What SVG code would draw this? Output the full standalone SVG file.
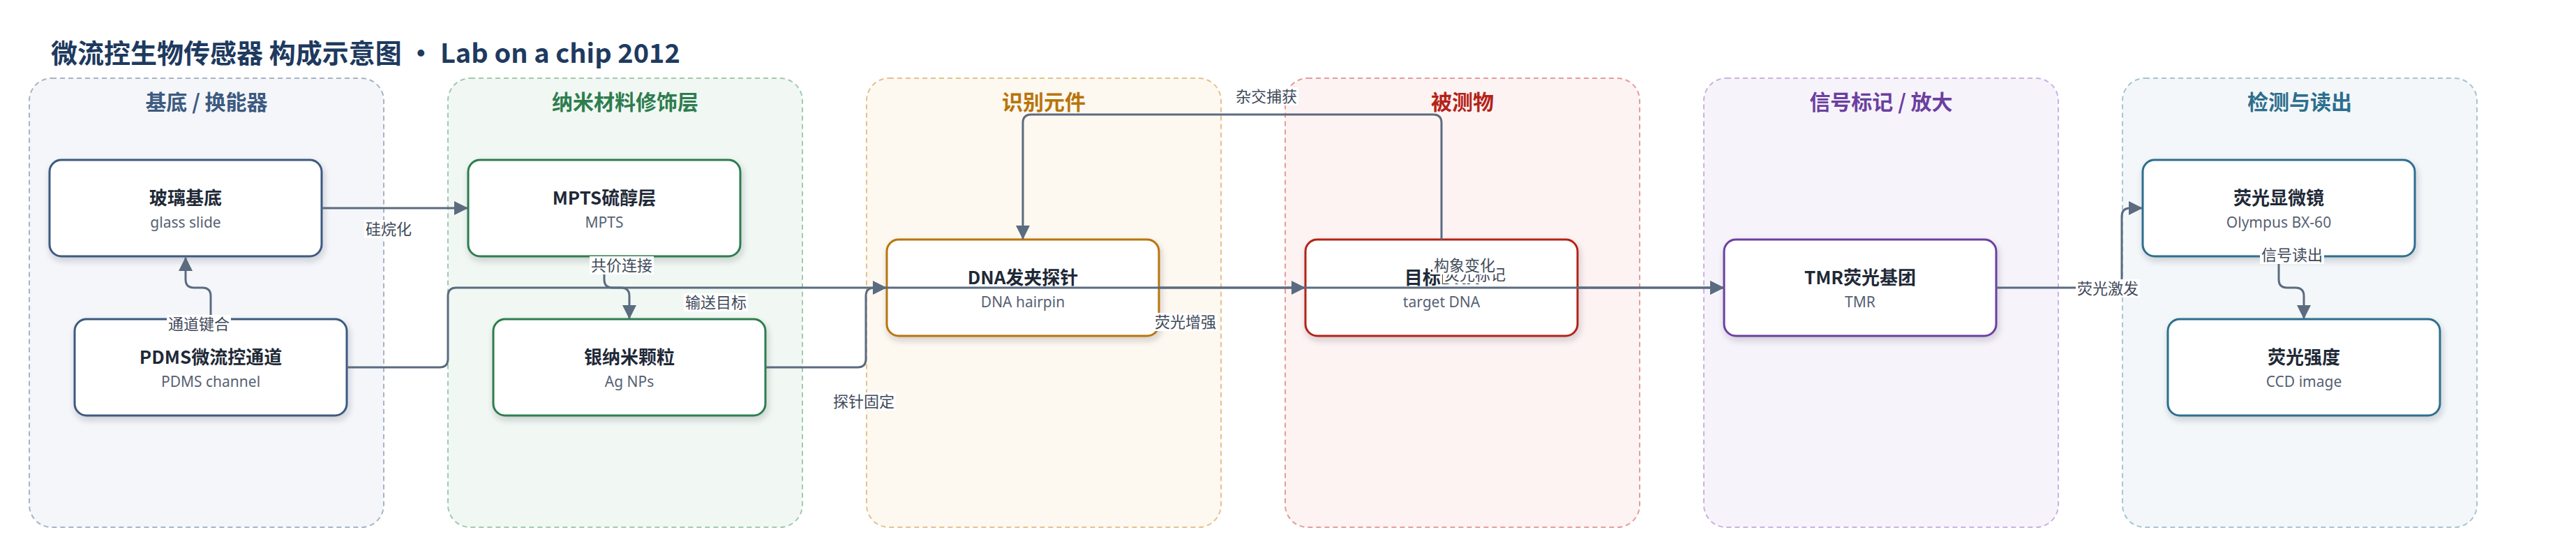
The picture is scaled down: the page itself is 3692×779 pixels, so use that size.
<svg xmlns="http://www.w3.org/2000/svg" width="3692" height="779" viewBox="0 0 3692 779">
<style>
.title{font-family:"Noto Sans CJK SC","Noto Sans",sans-serif;font-weight:700;font-size:38px;fill:#1e3a5f}
.ptitle{font-family:"Noto Sans CJK SC",sans-serif;font-weight:700;font-size:30px;text-anchor:middle}
.panel{stroke-width:2;stroke-dasharray:7 5}
.node rect{fill:#ffffff;stroke-width:3;filter:url(#shadow)}
.nt{font-family:"Noto Sans CJK SC",sans-serif;font-weight:700;font-size:26px;fill:#1f2937;text-anchor:middle}
.ns{font-family:"Noto Sans","Noto Sans CJK SC",sans-serif;font-size:21px;fill:#566173;text-anchor:middle}
.edge{fill:none;stroke:#5b6b80;stroke-width:3}
.arr{marker-end:url(#ah)}
.lbg{fill:#ffffff}
.lt{font-family:"Noto Sans CJK SC",sans-serif;font-size:22px;fill:#3f4a5a;text-anchor:middle}
</style>
<defs>
<filter id="shadow" x="-10%" y="-20%" width="120%" height="150%">
<feDropShadow dx="2" dy="5" stdDeviation="5" flood-color="#1f2937" flood-opacity="0.2"/>
</filter>
<marker id="ah" markerUnits="userSpaceOnUse" markerWidth="20" markerHeight="20" refX="19" refY="10" orient="auto">
<path d="M0,0 L20,10 L0,20 Z" fill="#5b6b80"/>
</marker>
</defs>
<rect x="0" y="0" width="3692" height="779" fill="#ffffff"/>
<text class="title" x="73" y="90">微流控生物传感器 构成示意图 · Lab on a chip 2012</text>

<g id="panels">
<g id="panel-substrate"><rect class="panel" x="42" y="112" width="508" height="643" rx="32" fill="#f4f6fa" stroke="#a7b4c7"/><text class="ptitle" x="296" y="157" fill="#3d5a80">基底 / 换能器</text></g>
<g id="panel-nano"><rect class="panel" x="642" y="112" width="508" height="643" rx="32" fill="#f1f8f3" stroke="#9fcaae"/><text class="ptitle" x="896" y="157" fill="#2e7d4f">纳米材料修饰层</text></g>
<g id="panel-recog"><rect class="panel" x="1242" y="112" width="508" height="643" rx="32" fill="#fdf8f0" stroke="#e3c28f"/><text class="ptitle" x="1496" y="157" fill="#b8740a">识别元件</text></g>
<g id="panel-analyte"><rect class="panel" x="1842" y="112" width="508" height="643" rx="32" fill="#fdf3f3" stroke="#e59c9c"/><text class="ptitle" x="2096" y="157" fill="#b42318">被测物</text></g>
<g id="panel-label"><rect class="panel" x="2442" y="112" width="508" height="643" rx="32" fill="#f7f3fb" stroke="#c8b2e2"/><text class="ptitle" x="2696" y="157" fill="#6b3fa0">信号标记 / 放大</text></g>
<g id="panel-detect"><rect class="panel" x="3042" y="112" width="508" height="643" rx="32" fill="#f3f7f9" stroke="#a6c5d2"/><text class="ptitle" x="3296" y="157" fill="#2d6e8e">检测与读出</text></g>
</g>

<g id="node-glass" class="node"><rect x="71" y="229" width="390" height="138" rx="17" stroke="#3d5a80"/><text class="nt" x="266" y="293">玻璃基底</text><text class="ns" x="266" y="326">glass slide</text></g>
<g id="node-pdms" class="node"><rect x="107" y="457" width="390" height="138" rx="17" stroke="#3d5a80"/><text class="nt" x="302" y="521">PDMS微流控通道</text><text class="ns" x="302" y="554">PDMS channel</text></g>
<g id="node-mpts" class="node"><rect x="671" y="229" width="390" height="138" rx="17" stroke="#2e7d4f"/><text class="nt" x="866" y="293">MPTS硫醇层</text><text class="ns" x="866" y="326">MPTS</text></g>
<g id="node-agnp" class="node"><rect x="707" y="457" width="390" height="138" rx="17" stroke="#2e7d4f"/><text class="nt" x="902" y="521">银纳米颗粒</text><text class="ns" x="902" y="554">Ag NPs</text></g>
<g id="node-hairpin" class="node"><rect x="1271" y="343" width="390" height="138" rx="17" stroke="#b8740a"/><text class="nt" x="1466" y="407">DNA发夹探针</text><text class="ns" x="1466" y="440">DNA hairpin</text></g>
<g id="node-target" class="node"><rect x="1871" y="343" width="390" height="138" rx="17" stroke="#b42318"/><text class="nt" x="2066" y="407">目标DNA</text><text class="ns" x="2066" y="440">target DNA</text></g>
<g id="node-tmr" class="node"><rect x="2471" y="343" width="390" height="138" rx="17" stroke="#6b3fa0"/><text class="nt" x="2666" y="407">TMR荧光基团</text><text class="ns" x="2666" y="440">TMR</text></g>
<g id="node-microscope" class="node"><rect x="3071" y="229" width="390" height="138" rx="17" stroke="#2d6e8e"/><text class="nt" x="3266" y="293">荧光显微镜</text><text class="ns" x="3266" y="326">Olympus BX-60</text></g>
<g id="node-intensity" class="node"><rect x="3107" y="457" width="390" height="138" rx="17" stroke="#2d6e8e"/><text class="nt" x="3302" y="521">荧光强度</text><text class="ns" x="3302" y="554">CCD image</text></g>

<g id="connectors">
<path class="edge arr" d="M461,298 L670,298"/>
<path class="edge arr" d="M302,456 L302,424 Q302,412 290,412 L278,412 Q266,412 266,400 L266,369"/>
<path class="edge arr" d="M866,368 L866,400 Q866,412 878,412 L890,412 Q902,412 902,424 L902,456"/>
<path class="edge arr" d="M1097,526 L1229,526 Q1241,526 1241,514 L1241,424 Q1241,412 1253,412 L1270,412"/>
<path class="edge arr" d="M497,526 L630,526 Q642,526 642,514 L642,424 Q642,412 654,412 L1870,412"/>
<path class="edge arr" d="M2066,343 L2066,176 Q2066,164 2054,164 L1478,164 Q1466,164 1466,176 L1466,342"/>
<path class="edge arr" d="M1661,412 L2470,412"/>
<path class="edge arr" d="M2261,412 L2470,412"/>
<path class="edge arr" d="M2861,412 L3029,412 Q3041,412 3041,400 L3041,310 Q3041,298 3053,298 L3070,298"/>
<path class="edge arr" d="M3266,368 L3266,400 Q3266,412 3278,412 L3290,412 Q3302,412 3302,424 L3302,456"/>
<g id="edge-labels">
<rect class="lbg" x="522" y="315" width="70" height="26"/><text class="lt" x="557" y="336">硅烷化</text>
<rect class="lbg" x="239" y="451" width="92" height="26"/><text class="lt" x="285" y="472">通道键合</text>
<rect class="lbg" x="845" y="367" width="92" height="26"/><text class="lt" x="891" y="388">共价连接</text>
<rect class="lbg" x="980" y="420" width="92" height="26"/><text class="lt" x="1026" y="441">输送目标</text>
<rect class="lbg" x="1192" y="562" width="92" height="26"/><text class="lt" x="1238" y="583">探针固定</text>
<rect class="lbg" x="1769" y="125" width="92" height="26"/><text class="lt" x="1815" y="146">杂交捕获</text>
<rect class="lbg" x="1653" y="448" width="92" height="26"/><text class="lt" x="1699" y="469">荧光增强</text>
<rect class="lbg" x="2068" y="380" width="92" height="26"/><text class="lt" x="2114" y="401">荧光标记</text>
<rect class="lbg" x="2053" y="367" width="92" height="26"/><text class="lt" x="2099" y="388">构象变化</text>
<rect class="lbg" x="2975" y="400" width="92" height="26"/><text class="lt" x="3021" y="421">荧光激发</text>
<rect class="lbg" x="3239" y="352" width="92" height="26"/><text class="lt" x="3285" y="373">信号读出</text>
</g>
</g>
</svg>
